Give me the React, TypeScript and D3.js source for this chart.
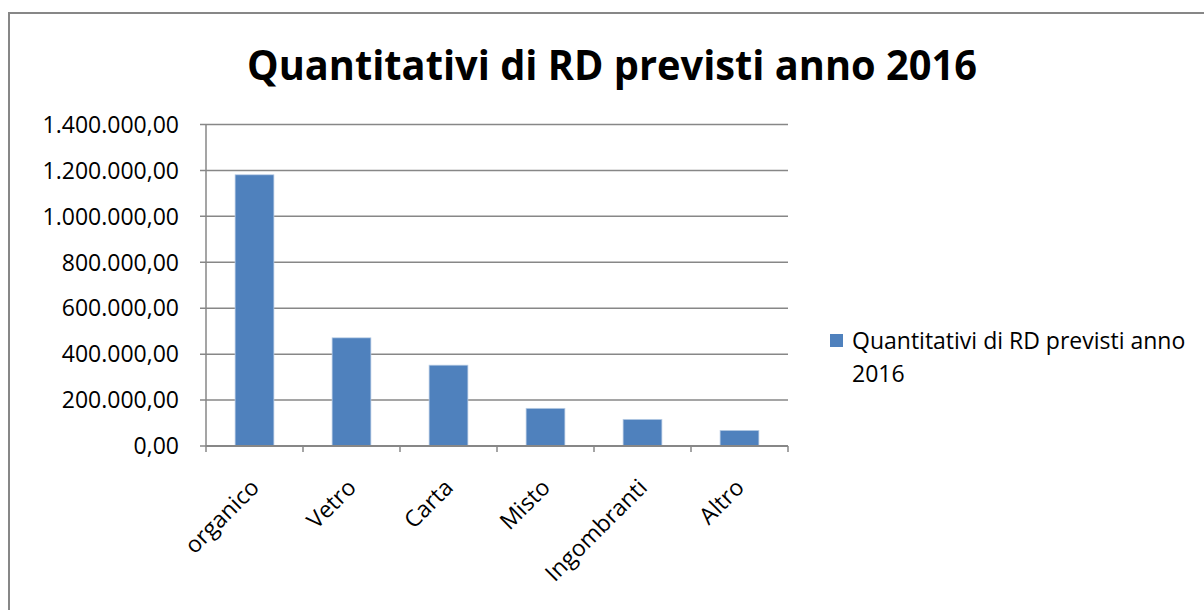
import React from "react";
import * as d3 from "d3";

const categories = ["organico", "Vetro", "Carta", "Misto", "Ingombranti", "Altro"];
const values = [1181000, 471000, 352000, 164000, 116000, 68000];
const yTicks = [0, 200000, 400000, 600000, 800000, 1000000, 1200000, 1400000];
const title = "Quantitativi di RD previsti anno 2016";
const legendLines = ["Quantitativi di RD previsti anno", "2016"];

const W = 1204;
const H = 610;
const FONT = "'Open Sans', 'Noto Sans', sans-serif";
const BAR = "#4f81bd";
const GRID = "#878787";
const FS = 23;

const itLocale = d3.formatLocale({
  decimal: ",",
  thousands: ".",
  grouping: [3],
  currency: ["", " €"],
});
const fmt = itLocale.format(",.2f");

export default function App() {
  const left = 206;
  const right = 788;
  const top = 124.5;
  const bottom = 446;

  const x = d3.scaleBand<string>().domain(categories).range([left, right]).paddingInner(0.6).paddingOuter(0.3);
  const y = d3.scaleLinear().domain([0, 1400000]).range([bottom, top]);
  const step = x.step();
  const boundaries = d3.range(categories.length + 1).map((i) => left + i * step);

  return (
    <svg
      width={W}
      height={H}
      style={{ position: "absolute", left: 0, top: 0, background: "#fff" }}
      fontFamily={FONT}
    >
      <rect x={0} y={0} width={W} height={H} fill="#fff" />
      {/* chart frame */}
      <path d={`M9,${H + 5} L9,13 L${W + 5},13`} fill="none" stroke={GRID} strokeWidth={2} />

      {/* title */}
      <text
        x={612}
        y={80}
        textAnchor="middle"
        fontSize={41}
        fontWeight={700}
        fill="#000"
        textLength={730}
        lengthAdjust="spacingAndGlyphs"
      >
        {title}
      </text>

      {/* gridlines */}
      {yTicks.map((t) => (
        <line key={"g" + t} x1={left - 6} x2={right} y1={y(t)} y2={y(t)} stroke={GRID} strokeWidth={1.5} />
      ))}

      {/* y tick labels */}
      {yTicks.map((t) => (
        <text key={"l" + t} x={179} y={y(t)} dy="0.36em" textAnchor="end" fontSize={FS} fill="#000">
          {fmt(t)}
        </text>
      ))}

      {/* bars */}
      {categories.map((c, i) => (
        <rect
          key={c}
          x={x(c)}
          y={y(values[i])}
          width={x.bandwidth()}
          height={bottom - y(values[i])}
          fill={BAR}
          stroke="#b9cde5"
          strokeWidth={0.75}
        />
      ))}

      {/* axes */}
      <line x1={left} x2={left} y1={top} y2={bottom} stroke={GRID} strokeWidth={1.5} />
      <line x1={left} x2={right} y1={bottom} y2={bottom} stroke={GRID} strokeWidth={2} />
      {boundaries.map((bx, i) => (
        <line key={"t" + i} x1={bx} x2={bx} y1={bottom} y2={bottom + 6} stroke={GRID} strokeWidth={1.5} />
      ))}

      {/* x labels */}
      {categories.map((c) => {
        const cx = (x(c) as number) + x.bandwidth() / 2;
        const ax = cx + 6;
        const ay = 489;
        return (
          <text
            key={"x" + c}
            x={ax}
            y={ay}
            textAnchor="end"
            fontSize={FS}
            fill="#000"
            transform={`rotate(-45 ${ax} ${ay})`}
          >
            {c}
          </text>
        );
      })}

      {/* legend */}
      <rect x={830} y={334} width={13} height={13} fill={BAR} />
      {legendLines.map((l, i) => (
        <text key={"lg" + i} x={852} y={349 + i * 33} fontSize={FS} fill="#000">
          {l}
        </text>
      ))}
    </svg>
  );
}
